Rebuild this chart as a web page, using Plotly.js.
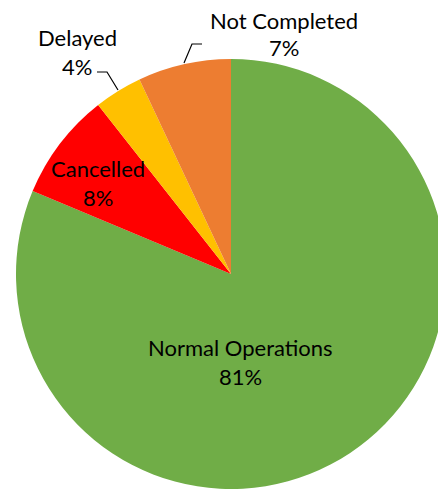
<!DOCTYPE html>
<html>
<head>
<meta charset="utf-8">
<script src="https://cdn.plot.ly/plotly-3.0.1.min.js"></script>
<style>
html,body{margin:0;padding:0;overflow:hidden;background:#fff;}
#chart{width:462px;height:500px;}
</style>
</head>
<body>
<div id="chart"></div>
<script>
// Data
const categories = ["Normal Operations", "Cancelled", "Delayed", "Not Completed"];
const values = [81.3, 8.1, 3.6, 7.0];
const colors = ["#70AD47", "#FF0000", "#FFC000", "#ED7D31"];

// Layout constants (pixels in the page)
const W = 462, H = 500;
const M = {l: 16, r: 16, t: 59, b: 11};
const plotW = W - M.l - M.r, plotH = H - M.t - M.b;
const px = x => (x - M.l) / plotW;
const py = y => 1 - (y - M.t) / plotH;

// label anchor points (center x, name line center y, percent line center y)
const labelPos = [
  [240, 347, 376],
  [98, 168, 197],
  [77, 37, 66],
  [284, 20, 48]
];

const total = values.reduce((a, b) => a + b, 0);
const font = {family: "Lato, 'Liberation Sans', sans-serif", size: 22, color: "#000"};
const annotations = [];
categories.forEach((c, i) => {
  const pct = Math.round(values[i] / total * 100) + "%";
  annotations.push({xref: "paper", yref: "paper", x: px(labelPos[i][0]), y: py(labelPos[i][1]),
    text: c, showarrow: false, xanchor: "center", yanchor: "middle", font: font});
  annotations.push({xref: "paper", yref: "paper", x: px(labelPos[i][0]), y: py(labelPos[i][2]),
    text: pct, showarrow: false, xanchor: "center", yanchor: "middle", font: font});
});

// leader lines
const leaders = [
  [[97, 72], [107, 72], [118, 90]],
  [[202, 44], [192, 44], [184, 63]]
];
const shapes = leaders.map(pts => ({
  type: "path", xref: "paper", yref: "paper",
  path: pts.map((p, k) => (k ? "L" : "M") + px(p[0]) + "," + py(p[1])).join(" "),
  line: {color: "#000", width: 1.2}
}));

Plotly.newPlot("chart", [{
  type: "pie",
  labels: categories,
  values: values,
  marker: {colors: colors, line: {width: 0}},
  sort: false,
  direction: "clockwise",
  rotation: 0,
  textinfo: "none",
  hoverinfo: "label+percent",
  showlegend: false,
  domain: {x: [0, 1], y: [0, 1]}
}], {
  width: W, height: H,
  margin: M,
  paper_bgcolor: "#fff",
  showlegend: false,
  annotations: annotations,
  shapes: shapes
}, {displayModeBar: false, staticPlot: true});
</script>
</body>
</html>
